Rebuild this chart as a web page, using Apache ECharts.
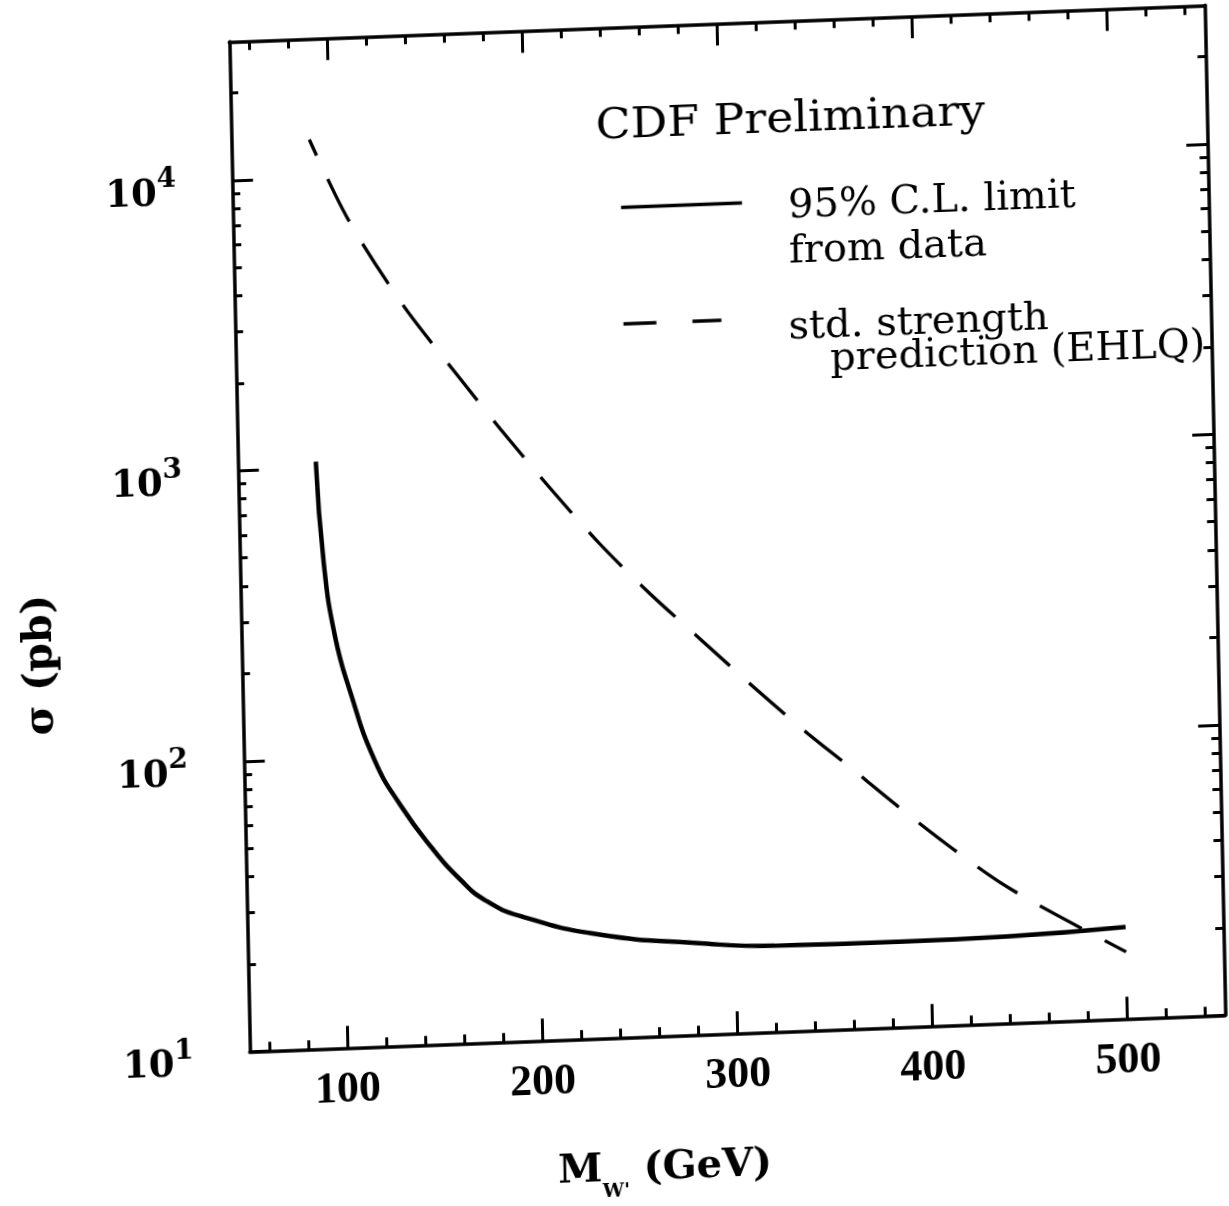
<!DOCTYPE html>
<html>
<head>
<meta charset="utf-8">
<script src="https://cdn.jsdelivr.net/npm/echarts@6/dist/echarts.min.js"></script>
<style>
html,body{margin:0;padding:0;background:#fff;overflow:hidden;}
#chart{width:1229px;height:1206px;transform:matrix(0.9995,-0.0374,0.0203,0.9995,0,0);transform-origin:727.25px 528.25px;}
</style>
</head>
<body>
<div id="chart"></div>
<script>
// ---- data ----
const limitMass  = [90, 93, 98, 105, 117, 130, 145, 160, 172, 190, 230, 280, 320, 385, 440, 500];
const limitSigma = [1050, 470, 262, 170, 97, 67, 48, 36.5, 31, 27, 22.8, 20.7, 19.8, 19.7, 19.9, 20.7];
const predMass   = [90, 109, 136, 161, 185, 210, 235, 260, 285, 310, 336, 361, 386, 412, 437, 463, 500];
const predSigma  = [13500, 7100, 3560, 2100, 1285, 790, 500, 333, 230, 159, 110, 79, 56.5, 40.6, 30.3, 23.6, 17];

const xMajorTicks = [100, 200, 300, 400, 500];
const xMinorTicks = [60, 80, 120, 140, 160, 180, 220, 240, 260, 280, 320, 340, 360, 380, 420, 440, 460, 480, 520, 540];
const yMajorTicks = [10, 100, 1000, 10000];
const yMinorTicks = [];
for (const d of [10, 100, 1000, 10000]) for (let m = 2; m <= 9; m++) if (m * d < 30000) yMinorTicks.push(m * d);

const limitName = '95% C.L. limit from data';
const predName = 'std. strength prediction (EHLQ)';

const chart = echarts.init(document.getElementById('chart'));
const black = '#000';
const xBase = {type: 'value', min: 50, max: 550, gridIndex: 0, splitLine: {show: false}};
const yBase = {type: 'log', logBase: 10, min: 10, max: 30000, gridIndex: 0, splitLine: {show: false}};

function xAx(pos, major, withLine) {
  return Object.assign({}, xBase, {
    position: pos,
    axisLine: {show: withLine, onZero: false, lineStyle: {color: black, width: 3.5}},
    axisTick: {show: true, inside: true, length: major ? 22 : 9, customValues: major ? xMajorTicks : xMinorTicks, lineStyle: {color: black, width: 3}},
    axisLabel: {show: false}
  });
}
function yAx(pos, major, withLine) {
  return Object.assign({}, yBase, {
    position: pos,
    axisLine: {show: withLine, onZero: false, lineStyle: {color: black, width: 3.5}},
    axisTick: {show: true, inside: true, length: major ? 21 : 8, customValues: major ? yMajorTicks : yMinorTicks, lineStyle: {color: black, width: 3}},
    axisLabel: {show: false}
  });
}

const xMain = xAx('bottom', true, true);
xMain.axisLabel = {show: true, customValues: xMajorTicks, margin: 20, color: black,
  fontFamily: 'Liberation Serif', fontWeight: 'bold', fontSize: 44};
xMain.name = "{m|M}{w|W'}{g|(GeV)}";
xMain.nameLocation = 'middle';
xMain.nameGap = 112;
xMain.nameTextStyle = {padding: [0, 150, 0, 0], rich: {
  m: {fontFamily: 'DejaVu Serif', fontWeight: 'bold', fontSize: 40, lineHeight: 40, verticalAlign: 'top', color: black},
  w: {fontFamily: 'DejaVu Serif', fontWeight: 'bold', fontSize: 19, lineHeight: 20, verticalAlign: 'top', padding: [32, 0, 0, 0], color: black},
  g: {fontFamily: 'DejaVu Serif', fontWeight: 'bold', fontSize: 40, lineHeight: 40, verticalAlign: 'top', padding: [0, 0, 0, 14], color: black}
}};

const yMain = yAx('left', true, true);
yMain.axisLabel = {show: true, customValues: yMajorTicks, margin: 56, color: black,
  padding: [14, 0, 0, 0],
  formatter: function (v) { return '{b|10}{s|' + Math.round(Math.log10(v)) + '}'; },
  rich: {
    b: {fontFamily: 'DejaVu Serif', fontWeight: 'bold', fontSize: 37, verticalAlign: 'bottom', color: black},
    s: {fontFamily: 'DejaVu Serif', fontWeight: 'bold', fontSize: 28, verticalAlign: 'top', padding: [0, 0, 20, 0], color: black}
  }};
yMain.name = 'σ (pb)';
yMain.nameLocation = 'middle';
yMain.nameGap = 180;
yMain.nameTextStyle = {fontFamily: 'DejaVu Serif', fontWeight: 'bold', fontSize: 41, color: black, padding: [0, 222, 0, 0]};

const noMark = {color: 'rgba(0,0,0,0)', borderWidth: 0, borderColor: 'rgba(0,0,0,0)'};

const option = {
  backgroundColor: '#fff',
  animation: false,
  grid: {left: 239.25, right: 13.75, top: 23.25, bottom: 172.75, containLabel: false},
  xAxis: [xMain, xAx('bottom', false, false), xAx('top', true, true), xAx('top', false, false)],
  yAxis: [yMain, yAx('left', false, false), yAx('right', true, true), yAx('right', false, false)],
  graphic: [{
    type: 'text', left: 604, top: 102, scaleX: 1.09,
    style: {text: 'CDF Preliminary', font: '42px "DejaVu Serif"', fill: black}
  }],
  legend: [{
    data: [limitName], left: 626, top: 129.5, padding: 0, selectedMode: false,
    itemWidth: 121, itemHeight: 8, itemStyle: noMark,
    lineStyle: {width: 3.5},
    formatter: function () { return '{e| }\n{t|95% C.L. limit}\n{t|from data}'; },
    textStyle: {rich: {
      e: {fontSize: 58, lineHeight: 58},
      t: {fontFamily: 'DejaVu Serif', fontSize: 40, lineHeight: 45, color: black, padding: [0, 0, 0, 41]}
    }}
  }, {
    data: [predName], left: 626, top: 259.5, padding: 0, selectedMode: false,
    itemWidth: 98, itemHeight: 8, itemStyle: noMark,
    lineStyle: {type: [33, 36], dashOffset: 0, width: 3.5},
    formatter: function () { return '{e| }\n{t|std. strength}\n{u|prediction (EHLQ)}'; },
    textStyle: {rich: {
      e: {fontSize: 55, lineHeight: 55},
      t: {fontFamily: 'DejaVu Serif', fontSize: 40, lineHeight: 33, color: black, padding: [0, 0, 0, 62]},
      u: {fontFamily: 'DejaVu Serif', fontSize: 40, lineHeight: 33, color: black, padding: [0, 0, 0, 103]}
    }}
  }],
  series: [{
    name: limitName, type: 'line', xAxisIndex: 0, yAxisIndex: 0,
    data: limitMass.map((m, i) => [m, limitSigma[i]]),
    showSymbol: false, symbol: 'none', smooth: 0.5,
    lineStyle: {color: black, width: 4.5}, itemStyle: {color: black}
  }, {
    name: predName, type: 'line', xAxisIndex: 0, yAxisIndex: 0,
    data: predMass.map((m, i) => [m, predSigma[i]]),
    showSymbol: false, symbol: 'none', smooth: 0.3,
    lineStyle: {color: black, width: 3.3, type: [48, 26], dashOffset: 30}, itemStyle: {color: black}
  }]
};
chart.setOption(option);
</script>
</body>
</html>
